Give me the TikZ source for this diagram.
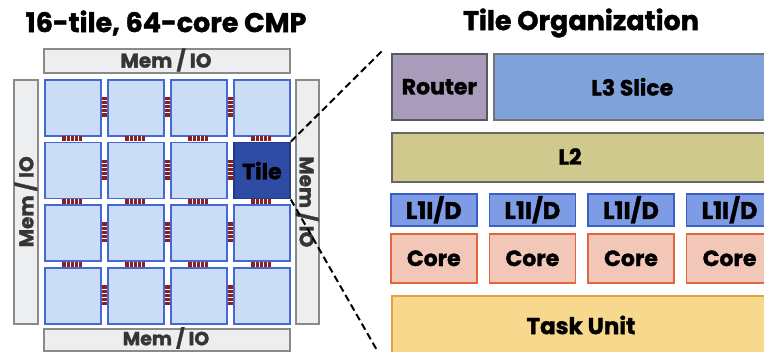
\documentclass[tikz,border=0pt]{standalone}
\usepackage{fontspec}
\setmainfont{Poppins}[BoldFeatures={FakeBold=1.4}]
\usetikzlibrary{calc}
\definecolor{tilefill}{HTML}{CADCF6}
\definecolor{tileline}{HTML}{4668D2}
\definecolor{hotfill}{HTML}{2F4CA5}
\definecolor{hotline}{HTML}{22388A}
\definecolor{memfill}{HTML}{EDEEF0}
\definecolor{memline}{HTML}{8A8A8A}
\definecolor{memtext}{HTML}{353535}
\definecolor{linkred}{HTML}{8B2020}
\definecolor{routerfill}{HTML}{A99CBB}
\definecolor{l3fill}{HTML}{7FA2DA}
\definecolor{l2fill}{HTML}{CFC98E}
\definecolor{l1fill}{HTML}{7E9CE6}
\definecolor{l1line}{HTML}{3D5FC4}
\definecolor{corefill}{HTML}{F3C7B7}
\definecolor{coreline}{HTML}{E0663E}
\definecolor{taskfill}{HTML}{F8D88C}
\definecolor{taskline}{HTML}{E4A248}
\tikzset{
  blk/.style={draw, line width=1.6pt, inner sep=0pt, anchor=north west,
    font=\bfseries\fontsize{22}{22}\selectfont},
  tilebox/.style={blk, fill=tilefill, draw=tileline, line width=1.8pt,
    minimum width=56pt, minimum height=56pt},
  hottile/.style={tilebox, fill=hotfill, draw=hotline},
  membar/.style={blk, fill=memfill, draw=memline, text=memtext},
  memtxt/.style={font=\bfseries\fontsize{20}{20}\selectfont, text=memtext, inner sep=0pt},
  titletext/.style={font=\bfseries\fontsize{27}{27}\selectfont},
  l1box/.style={blk, fill=l1fill, draw=l1line, minimum width=86pt, minimum height=32pt,
    font=\bfseries\fontsize{24}{24}\selectfont},
  corebox/.style={blk, fill=corefill, draw=coreline, minimum width=86pt, minimum height=49pt},
  zoomline/.style={line width=2pt, dash pattern=on 7pt off 4pt},
}
\begin{document}
\begin{tikzpicture}[x=1pt,y=-1pt]
\useasboundingbox (0,0) rectangle (764,352);
\clip (0,0) rectangle (764,352);

% titles
\node[titletext] (ttl) at (166,23) {16-tile, 64-core CMP};
\node[titletext] (ttr) at (581,23) {Tile Organization};

% memory / IO bars around the chip
\node[membar, minimum width=246pt, minimum height=24pt] (memt) at (43,48) {};
\node[membar, minimum width=246pt, minimum height=22.5pt] (memb) at (43,328) {};
\node[membar, minimum width=24pt, minimum height=244pt] (meml) at (13,79) {};
\node[membar, minimum width=23pt, minimum height=244pt] (memr) at (295,79) {};
\node[memtxt] (memtt) at (166,60) {Mem / IO};
\node[memtxt, font=\bfseries\fontsize{19}{19}\selectfont] (membt) at (166,338) {Mem / IO};
\node[memtxt, rotate=90] (memlt) at (meml.center) {Mem / IO};
\node[memtxt, rotate=-90] (memrt) at (memr.center) {Mem / IO};

% 4x4 tile array
\foreach \i in {0,...,3}{
  \foreach \j in {0,...,3}{
    \ifnum\i=3 \ifnum\j=1 \else
      \node[tilebox] (t\i\j) at ({44+63*\i},{79+62.7*\j}) {};
    \fi \else
      \node[tilebox] (t\i\j) at ({44+63*\i},{79+62.7*\j}) {};
    \fi
  }
}
\node[hottile] (hot) at ({44+63*3},{79+62.7*1}) {Tile};

% links between horizontally adjacent tiles
\foreach \i in {0,1,2}{
  \foreach \j in {0,...,3}{
    \pgfmathsetmacro{\lx}{44+63*\i+57.5}
    \pgfmathsetmacro{\cy}{79+62.7*\j+28}
    \fill[linkred] (\lx,\cy-10) rectangle ++(5.5,20);
    \foreach \k in {-6,-2,2,6}
      \draw[white, line width=1pt] (\lx,\cy+\k) -- ++(5.5,0);
  }
}
% links between vertically adjacent tiles
\foreach \i in {0,...,3}{
  \foreach \j in {0,1,2}{
    \pgfmathsetmacro{\cx}{44+63*\i+28}
    \pgfmathsetmacro{\ly}{79+62.7*\j+57.2}
    \fill[linkred] (\cx-10,\ly) rectangle ++(20,5);
    \foreach \k in {-6,-2,2,6}
      \draw[white, line width=1pt] (\cx+\k,\ly) -- ++(0,5);
  }
}

% tile organization
\node[blk, fill=routerfill, draw=black!65, minimum width=95pt, minimum height=66pt] (router) at (391,53) {Router};
\node[blk, fill=l3fill, draw=black!55, minimum width=277pt, minimum height=66pt] (l3) at (493,53) {L3 Slice};
\node[blk, fill=l2fill, draw=black!60, minimum width=379pt, minimum height=49pt] (l2) at (391,132) {};
\node[font=\bfseries\fontsize{22}{22}\selectfont] (l2t) at (570,156.5) {L2};
\foreach \k in {0,...,3}{
  \node[l1box] (l1\k) at ({390+98.6*\k},193) {L1I/D};
  \node[corebox] (core\k) at ({390+98.6*\k},233) {Core};
}
\node[blk, fill=taskfill, draw=taskline, minimum width=379pt, minimum height=62pt] (task) at (391,295) {};
\node[font=\bfseries\fontsize{23}{23}\selectfont] (taskt) at (581,325) {Task Unit};

% zoom-out lines from the highlighted tile
\coordinate (zt) at (382,51);
\coordinate (zb) at (378,352);
\draw[zoomline] (hot.north east) -- (zt);
\draw[zoomline] (hot.south east) -- (zb);
\end{tikzpicture}
\end{document}
